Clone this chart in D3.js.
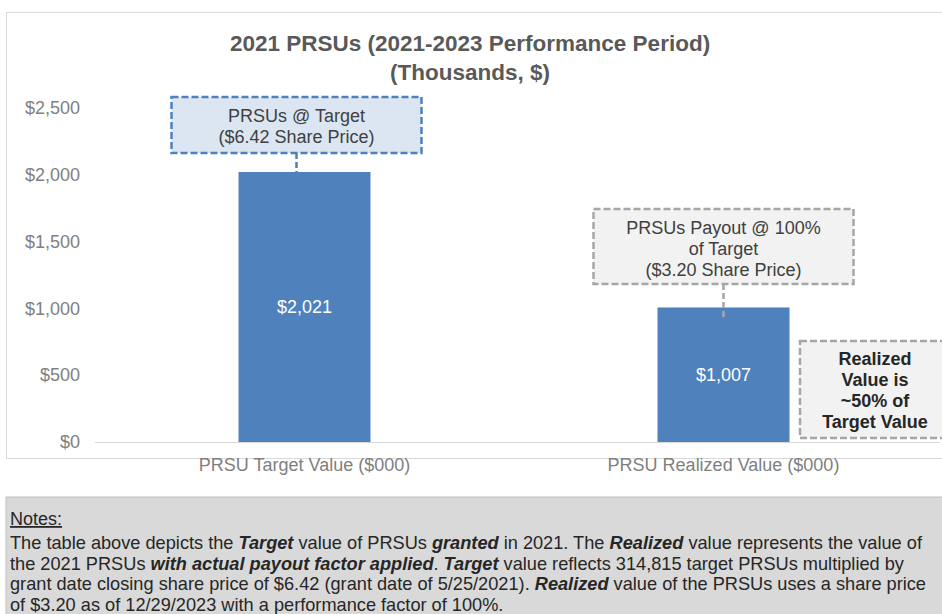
<!DOCTYPE html>
<html>
<head>
<meta charset="utf-8">
<script src="https://cdn.jsdelivr.net/npm/d3@7"></script>
<style>
  body { margin: 0; background: #fff; }
  svg { display: block; font-family: "Liberation Sans", Arial, sans-serif; }
</style>
</head>
<body>
<svg id="chart" width="942" height="614"></svg>
<script>
// data
var categories = ['PRSU Target Value ($000)', 'PRSU Realized Value ($000)'];
var values = [2021, 1007];
var valueLabels = ['$2,021', '$1,007'];
var yTicks = [0, 500, 1000, 1500, 2000, 2500];
var titleLines = ['2021 PRSUs (2021-2023 Performance Period)', '(Thousands, $)'];
var calloutTarget = ['PRSUs @ Target', '($6.42 Share Price)'];
var calloutRealized = ['PRSUs Payout @ 100%', 'of Target', '($3.20 Share Price)'];
var calloutPct = ['Realized', 'Value is', '~50% of', 'Target Value'];
var notes = [
    [['The table above depicts the ', 0], ['Target', 1], [' value of PRSUs ', 0], ['granted', 1], [' in 2021. The ', 0], ['Realized', 1], [' value represents the value of', 0]],
    [['the 2021 PRSUs ', 0], ['with actual payout factor applied', 1], ['. ', 0], ['Target', 1], [' value reflects 314,815 target PRSUs multiplied by', 0]],
    [['grant date closing share price of $6.42 (grant date of 5/25/2021). ', 0], ['Realized', 1], [' value of the PRSUs uses a share price', 0]],
    [['of $3.20 as of 12/29/2023 with a performance factor of 100%.', 0]]
];

var svg = d3.select('#chart');

// frame
svg.append('rect')
    .attr('x', 6.5).attr('y', 12.5)
    .attr('width', 950).attr('height', 446)
    .attr('fill', '#fff')
    .attr('stroke', '#d9d9d9');

// title
svg.selectAll('.title')
    .data(titleLines)
    .enter().append('text')
        .attr('class', 'title')
        .attr('x', 470)
        .attr('y', (d, i) => 51 + i * 29)
        .attr('text-anchor', 'middle')
        .attr('font-size', '22.5px')
        .attr('font-weight', 'bold')
        .attr('fill', '#595959')
        .text(d => d);

var x = d3.scaleBand()
    .domain(categories)
    .range([95, 933])
    .paddingInner(0.685)
    .paddingOuter(0.3425);

var y = d3.scaleLinear()
    .domain([0, 2500])
    .range([442, 108]);

// y axis labels
var yAxis = svg.append('g')
    .attr('transform', 'translate(80,0)')
    .call(d3.axisLeft(y).tickValues(yTicks).tickSize(0).tickPadding(0).tickFormat(d => '$' + d3.format(',')(d)));
yAxis.select('.domain').remove();
yAxis.selectAll('text')
    .attr('font-size', '18px')
    .attr('font-family', '"Liberation Sans", Arial, sans-serif')
    .attr('fill', '#808080');

// bars
svg.selectAll('.bar')
    .data(values)
    .enter().append('rect')
        .attr('class', 'bar')
        .attr('x', (d, i) => x(categories[i]))
        .attr('y', d => y(d))
        .attr('width', x.bandwidth())
        .attr('height', d => y(0) - y(d))
        .attr('fill', '#4f81bd');

// baseline
svg.append('line')
    .attr('x1', 95).attr('x2', 940)
    .attr('y1', y(0) + 0.5).attr('y2', y(0) + 0.5)
    .attr('stroke', '#d9d9d9');

// value labels
svg.selectAll('.vlabel')
    .data(values)
    .enter().append('text')
        .attr('class', 'vlabel')
        .attr('x', (d, i) => x(categories[i]) + x.bandwidth() / 2)
        .attr('y', d => (y(d) + y(0)) / 2 + 6)
        .attr('text-anchor', 'middle')
        .attr('font-size', '18px')
        .attr('fill', '#fff')
        .text((d, i) => valueLabels[i]);

// category labels
svg.selectAll('.clabel')
    .data(categories)
    .enter().append('text')
        .attr('class', 'clabel')
        .attr('x', d => x(d) + x.bandwidth() / 2)
        .attr('y', 471)
        .attr('text-anchor', 'middle')
        .attr('font-size', '18px')
        .attr('fill', '#7f7f7f')
        .text(d => d);

// callouts
var callout = function(lines, box, style) {
    var g = svg.append('g');
    g.append('rect')
        .attr('x', box.x).attr('y', box.y)
        .attr('width', box.w).attr('height', box.h)
        .attr('fill', style.fill)
        .attr('stroke', style.stroke)
        .attr('stroke-width', 2.5)
        .attr('stroke-dasharray', '7,3');
    g.selectAll('text')
        .data(lines)
        .enter().append('text')
            .attr('x', box.x + box.w / 2)
            .attr('y', (d, i) => box.y + box.first + i * box.lh)
            .attr('text-anchor', 'middle')
            .attr('font-size', style.size)
            .attr('font-weight', style.weight)
            .attr('fill', style.color)
            .text(d => d);
    if (box.lineTo) {
        g.append('line')
            .attr('x1', box.x + box.w / 2).attr('x2', box.x + box.w / 2)
            .attr('y1', box.y + box.h).attr('y2', box.lineTo)
            .attr('stroke', style.stroke)
            .attr('stroke-width', 2.5)
            .attr('stroke-dasharray', '6,3');
    }
};

var cx0 = x(categories[0]) + x.bandwidth() / 2,
    cx1 = x(categories[1]) + x.bandwidth() / 2;

callout(calloutTarget,
    { x: cx0 - 133, y: 97, w: 250, h: 56, first: 25, lh: 21, lineTo: y(values[0]) },
    { fill: '#dce6f2', stroke: '#4f81bd', size: '18px', weight: 'normal', color: '#404040' });

callout(calloutRealized,
    { x: cx1 - 130, y: 209, w: 260, h: 75, first: 25, lh: 21, lineTo: y(values[1]) + 12 },
    { fill: '#f2f2f2', stroke: '#a6a6a6', size: '18px', weight: 'normal', color: '#404040' });

callout(calloutPct,
    { x: 800, y: 341, w: 150, h: 97, first: 24, lh: 21 },
    { fill: '#f2f2f2', stroke: '#a6a6a6', size: '18px', weight: 'bold', color: '#262626' });

// notes
svg.append('rect')
    .attr('x', 6).attr('y', 497)
    .attr('width', 950).attr('height', 130)
    .attr('fill', '#d9d9d9')
    .attr('stroke', '#bfbfbf');

svg.append('text')
    .attr('x', 10).attr('y', 525)
    .attr('font-size', '18px')
    .attr('fill', '#262626')
    .attr('text-decoration', 'underline')
    .text('Notes:');

var noteLines = svg.selectAll('.note')
    .data(notes)
    .enter().append('text')
        .attr('class', 'note')
        .attr('x', 10)
        .attr('y', (d, i) => 549 + i * 20.5)
        .attr('font-size', '18.2px')
        .attr('fill', '#262626');

noteLines.selectAll('tspan')
    .data(d => d)
    .enter().append('tspan')
        .attr('font-weight', d => d[1] ? 'bold' : 'normal')
        .attr('font-style', d => d[1] ? 'italic' : 'normal')
        .text(d => d[0]);
</script>
</body>
</html>
